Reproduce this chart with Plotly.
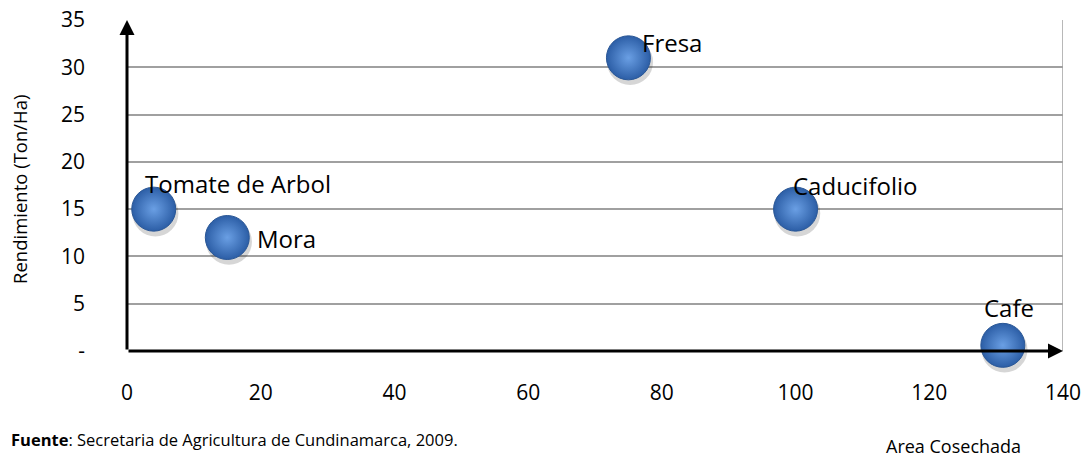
import plotly.graph_objects as go

cultivos = ["Tomate de Arbol", "Mora", "Fresa", "Caducifolio", "Cafe"]
area_cosechada = [4, 15, 75, 100, 131]
rendimiento = [15, 12, 31, 15, 0.6]

x_ticks = [0, 20, 40, 60, 80, 100, 120, 140]
y_ticks = [0, 5, 10, 15, 20, 25, 30, 35]
y_ticktext = ["-", "5", "10", "15", "20", "25", "30", "35"]

# label offsets (pixels) per point: (xshift, yshift, xanchor)
label_pos = {
    "Tomate de Arbol": (-11, 26, "left"),
    "Mora": (28, -1, "left"),
    "Fresa": (12, 15, "left"),
    "Caducifolio": (-5, 24, "left"),
    "Cafe": (6, 38, "center"),
}

FONT = "'Open Sans', sans-serif"
L, R, T, B = 127, 1063, 20, 351
W, H = R - L, B - T

def px(x):
    return (x - L) / W

def py(y):
    return (B - y) / H

fig = go.Figure()
# soft shadow beneath the balls
fig.add_trace(go.Scatter(
    x=[v + 0.25 for v in area_cosechada], y=[v - 0.45 for v in rendimiento], mode="markers",
    marker=dict(size=46, color="rgba(0,0,0,0.16)", line=dict(width=0)),
    hoverinfo="skip", showlegend=False, cliponaxis=False,
))
fig.add_trace(go.Scatter(
    x=area_cosechada, y=rendimiento, mode="markers",
    marker=dict(size=44, color="#2c5ea6",
                gradient=dict(type="radial", color="#6a9fe4"),
                line=dict(width=1, color="#2a5796")),
    hoverinfo="text", text=cultivos, showlegend=False, cliponaxis=False,
))

annotations = []
for name, xv, yv in zip(cultivos, area_cosechada, rendimiento):
    xs, ys, xa = label_pos[name]
    annotations.append(dict(x=xv, y=yv, xref="x", yref="y", text=name,
                            showarrow=False, xshift=xs, yshift=ys, xanchor=xa,
                            yanchor="middle", font=dict(size=24, color="black", family=FONT)))

# axis arrows
annotations.append(dict(x=0, y=35, ax=0, ay=0, xref="x", yref="y", axref="x", ayref="y",
                        showarrow=True, arrowhead=2, arrowsize=1, arrowwidth=3,
                        arrowcolor="black", text=""))
annotations.append(dict(x=140, y=0, ax=0, ay=0, xref="x", yref="y", axref="x", ayref="y",
                        showarrow=True, arrowhead=2, arrowsize=1, arrowwidth=3,
                        arrowcolor="black", text=""))

annotations.append(dict(x=px(953), y=py(446), xref="paper", yref="paper", text="Area Cosechada",
                        xanchor="center", yanchor="middle",
                        showarrow=False, font=dict(size=18, color="black", family=FONT)))
annotations.append(dict(x=px(9), y=py(439), xref="paper", yref="paper",
                        xanchor="left", yanchor="middle",
                        text="<b>Fuente</b>: Secretaria de Agricultura de Cundinamarca, 2009.",
                        showarrow=False, font=dict(size=16.5, color="black", family=FONT)))
annotations.append(dict(x=px(20), y=py(190), xref="paper", yref="paper",
                        xanchor="center", yanchor="middle", textangle=-90,
                        text="Rendimiento (Ton/Ha)",
                        showarrow=False, font=dict(size=18.5, color="black", family=FONT)))

fig.update_layout(annotations=annotations)

fig.add_shape(type="line", xref="x", yref="y", x0=140, x1=140, y0=0, y1=35,
              line=dict(color="#a0a0a0", width=1.5), layer="below")

fig.update_layout(
    width=1088, height=457,
    margin=dict(l=L, r=1088 - R, t=T, b=457 - B, autoexpand=False),
    paper_bgcolor="white", plot_bgcolor="white",
    font=dict(family=FONT, color="black"),
    xaxis=dict(range=[0, 140], tickvals=x_ticks, showgrid=False, zeroline=False,
               showline=False, ticks="", ticklabelstandoff=27, automargin=False,
               tickfont=dict(size=21, family=FONT)),
    yaxis=dict(range=[0, 35], tickvals=y_ticks, ticktext=y_ticktext,
               showgrid=True, gridcolor="#a0a0a0", gridwidth=1.5, automargin=False,
               zeroline=False, showline=False, ticks="", ticklabelstandoff=41,
               tickfont=dict(size=21, family=FONT)),
)

fig.write_html("out.html", config={"displayModeBar": False},
               post_script="document.body.style.margin='0';document.body.style.overflow='hidden';")
